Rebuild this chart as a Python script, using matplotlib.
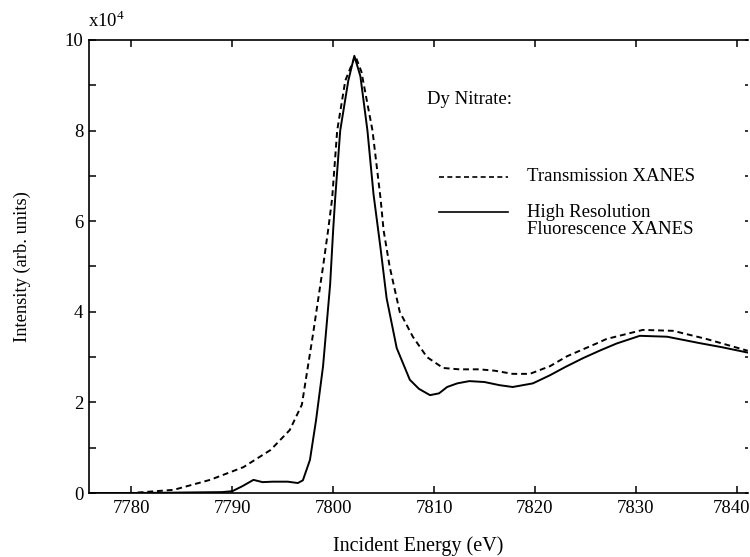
import numpy as np
import matplotlib
matplotlib.use("Agg")
import matplotlib.pyplot as plt
from matplotlib.ticker import MultipleLocator, FixedLocator

plt.rcParams['font.family'] = ['Liberation Serif', 'DejaVu Serif']
plt.rcParams['mathtext.fontset'] = 'custom'
plt.rcParams['mathtext.rm'] = 'Liberation Serif'

# Transmission XANES (dashed), intensity in units of 1e4
trans_e = [7775.8, 7780.0, 7784.2, 7787.8, 7791.1, 7793.8, 7795.7, 7796.9, 7798.0,
           7799.0, 7799.5, 7799.9, 7800.4, 7801.2, 7802.2, 7802.8, 7803.9, 7804.7,
           7805.0, 7805.6, 7806.6, 7807.9, 7809.3, 7810.9, 7812.5, 7814.5, 7816.0,
           7817.8, 7819.5, 7821.5, 7823.2, 7826.1, 7827.1, 7830.7, 7833.7, 7837.0,
           7841.1]
trans_i = [0.0, 0.0, 0.07, 0.29, 0.57, 0.95, 1.39, 1.95, 3.5,
           5.0, 5.8, 6.5, 8.0, 9.1, 9.65, 9.3, 8.0, 6.5,
           5.8, 5.0, 4.0, 3.45, 3.0, 2.76, 2.73, 2.73, 2.7,
           2.63, 2.63, 2.8, 3.02, 3.3, 3.4, 3.6, 3.58, 3.4,
           3.14]

# High resolution fluorescence XANES (solid)
hrf_e = [7775.8, 7780.0, 7785.0, 7789.0, 7790.0, 7791.0, 7792.1, 7793.0, 7794.0,
         7795.5, 7796.5, 7797.0, 7797.7, 7798.3, 7799.0, 7799.7, 7800.0, 7800.2,
         7800.7, 7801.5, 7802.1, 7802.7, 7803.4, 7804.0, 7804.7, 7805.3, 7806.3,
         7807.6, 7808.5, 7809.6, 7810.5, 7811.3, 7812.3, 7813.5, 7815.0, 7816.5,
         7817.8, 7819.8, 7821.5, 7823.0, 7824.8, 7826.5, 7828.1, 7830.4, 7833.1,
         7836.3, 7838.5, 7841.1]
hrf_i = [0.0, 0.0, 0.01, 0.02, 0.04, 0.15, 0.29, 0.24, 0.25,
         0.25, 0.22, 0.28, 0.73, 1.6, 2.8, 4.6, 5.8, 6.5,
         8.0, 9.1, 9.65, 9.2, 8.0, 6.6, 5.4, 4.3, 3.2,
         2.5, 2.3, 2.16, 2.2, 2.34, 2.42, 2.47, 2.45, 2.38,
         2.34, 2.42, 2.6, 2.78, 2.98, 3.15, 3.3, 3.47, 3.45,
         3.31, 3.22, 3.1]

fs = 13.5

fig = plt.figure(figsize=(7.5, 5.57), dpi=100)
ax = fig.add_axes([0.1187, 0.1149, 0.8783, 0.8133])

ax.plot(trans_e, trans_i, color='black', linestyle=(0, (3, 2)), linewidth=1.4)
ax.plot(hrf_e, hrf_i, color='black', linestyle='-', linewidth=1.4)

ax.set_xlim(7775.8, 7841.1)
ax.set_ylim(0, 10)
ax.xaxis.set_major_locator(FixedLocator([7780, 7790, 7800, 7810, 7820, 7830, 7840]))
ax.yaxis.set_major_locator(MultipleLocator(2))
ax.yaxis.set_minor_locator(MultipleLocator(1))
ax.yaxis.set_major_formatter(plt.FuncFormatter(lambda v, p: f"{v:.0f}"))

ax.spines['right'].set_visible(False)
for s in ['left', 'top', 'bottom']:
    ax.spines[s].set_linewidth(1.2)

ax.tick_params(axis='both', which='both', direction='in', labelsize=fs)
ax.tick_params(axis='x', which='major', top=True, length=5, width=1.1, pad=5)
ax.tick_params(axis='y', which='major', length=5, width=1.1, pad=4)
ax.tick_params(axis='y', which='minor', length=5, width=1.1)
ax.tick_params(axis='y', which='both', right=True)
for t in ax.yaxis.get_major_ticks() + ax.yaxis.get_minor_ticks():
    t.tick2line.set_color('#888888')
    t.tick2line.set_markersize(2)

# last label sits right at the edge of the scan
fig.canvas.draw()
ax.get_xticklabels()[-1].set_horizontalalignment('right')
ax.get_xticklabels()[-1].set_x(7840)
for lbl in ax.get_xticklabels()[-1:]:
    lbl.set_transform(lbl.get_transform() + matplotlib.transforms.ScaledTranslation(14 / 100, 0, fig.dpi_scale_trans))

ax.set_xlabel('Incident Energy (eV)', fontsize=14.5, labelpad=14)
ax.set_ylabel('Intensity (arb. units)', fontsize=13.3, labelpad=24)

fig.text(88 / 750, 1 - 21 / 557, r'x10$^{\mathregular{4}}$', fontsize=fs, va='center')

# legend drawn as annotations in data coords
ax.text(7809.3, 8.68, 'Dy Nitrate:', fontsize=fs, va='center')
ax.plot([7810.5, 7817.3], [6.98, 6.98], color='black', linestyle=(0, (3, 2)), linewidth=1.2)
ax.text(7819.2, 6.98, 'Transmission XANES', fontsize=fs, va='center')
ax.plot([7810.5, 7817.3], [6.2, 6.2], color='black', linewidth=1.2)
ax.text(7819.2, 6.2, 'High Resolution', fontsize=fs, va='center')
ax.text(7819.2, 5.82, 'Fluorescence XANES', fontsize=fs, va='center')

fig.savefig('out.png', dpi=100)
